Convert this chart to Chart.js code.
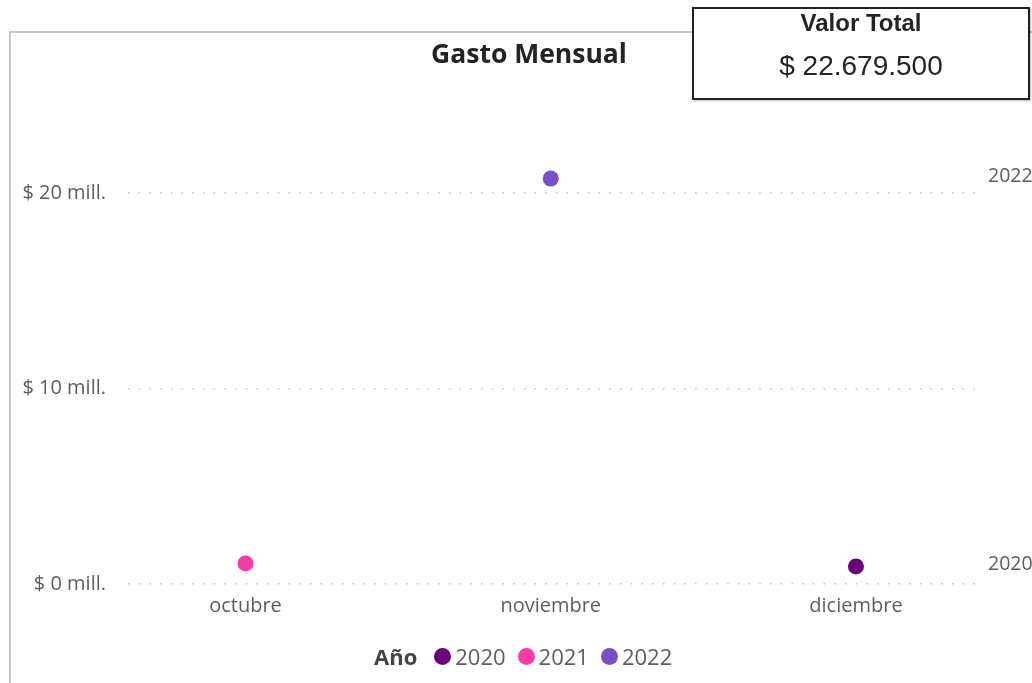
<!DOCTYPE html>
<html lang="es">
<head>
    <meta charset="UTF-8">
    <title>Gasto Mensual</title>
    <script src="https://cdn.jsdelivr.net/npm/chart.js"></script>
    <style>
        body {
            margin: 0;
            width: 1032px;
            height: 683px;
            overflow: hidden;
            background: #fff;
            position: relative;
            font-family: "Open Sans", sans-serif;
        }
        .frame {
            position: absolute;
            left: 9px;
            top: 31px;
            width: 1100px;
            height: 700px;
            border: 2px solid #c8c8c8;
            border-right: none;
            border-bottom: none;
        }
        #chartCanvas {
            position: absolute;
            left: 0;
            top: 0;
        }
        .title {
            position: absolute;
            left: 329px;
            width: 400px;
            top: 35px;
            text-align: center;
            font-weight: bold;
            font-size: 26.5px;
            color: #252423;
        }
        .card {
            position: absolute;
            left: 692px;
            top: 7px;
            width: 334px;
            height: 89px;
            border: 2px solid #222;
            background: #fff;
            font-family: "Liberation Sans", Arial, sans-serif;
            text-align: center;
            color: #252423;
            box-shadow: 1px 1px 2px rgba(0,0,0,0.25);
        }
        .card h4 {
            margin: 0;
            margin-top: 0;
            font-size: 24px;
            font-weight: bold;
        }
        .card p {
            margin: 0;
            margin-top: 13px;
            font-size: 28px;
        }
        .legend {
            position: absolute;
            left: 374px;
            top: 641px;
            display: flex;
            align-items: center;
            font-size: 22px;
            color: #605e5c;
        }
        .legend b {
            color: #444;
            margin-right: 17px;
        }
        .legend span.dot {
            display: inline-block;
            width: 17px;
            height: 17px;
            border-radius: 50%;
            margin-right: 4px;
        }
        .legend span.item {
            display: flex;
            align-items: center;
            margin-right: 12px;
        }
    </style>
</head>
<body>
    <div class="frame"></div>
    <canvas id="chartCanvas" width="1032" height="683"></canvas>
    <div class="title">Gasto Mensual</div>
    <div class="card">
        <h4>Valor Total</h4>
        <p id="valorTotal"></p>
    </div>
    <div class="legend" id="legend"><b>Año</b></div>

    <script>
        // datos
        const months = ['octubre', 'noviembre', 'diciembre'];
        const years = ['2020', '2021', '2022'];
        const colors = ['#6B007B', '#F23CA6', '#7B4FC8'];
        const gasto2020 = [null, null, 900000];
        const gasto2021 = [1050000, null, null];
        const gasto2022 = [null, 20729500, null];
        const yTicks = [0, 10000000, 20000000];

        const series = [gasto2020, gasto2021, gasto2022];

        const formatMiles = n => String(n).replace(/\B(?=(\d{3})+(?!\d))/g, '.');

        let total = 0;
        series.forEach(s => s.forEach(v => { if (v !== null) total += v; }));
        document.getElementById('valorTotal').textContent = '$ ' + formatMiles(total);

        const datasets = years.map((year, i) => ({
            label: year,
            data: series[i].map((v, j) => ({ x: j, y: v })).filter(p => p.y !== null),
            borderColor: colors[i],
            backgroundColor: colors[i],
            pointRadius: 8,
            pointHoverRadius: 8,
            pointBorderWidth: 0,
            borderWidth: 3
        }));

        // etiquetas de serie a la derecha (como Power BI)
        const endLabels = {
            id: 'endLabels',
            afterDatasetsDraw(chart) {
                const ctx = chart.ctx;
                const yScale = chart.scales.y;
                const used = [];
                ctx.save();
                ctx.font = '19.5px "Open Sans"';
                ctx.fillStyle = '#605e5c';
                ctx.textBaseline = 'middle';
                chart.data.datasets.forEach(ds => {
                    const last = ds.data[ds.data.length - 1];
                    if (!last) return;
                    const y = yScale.getPixelForValue(last.y) - 2;
                    if (used.some(u => Math.abs(u - y) < 20)) return;
                    used.push(y);
                    ctx.fillText(ds.label, chart.chartArea.right + 13, y);
                });
                ctx.restore();
            }
        };

        const ctx = document.getElementById('chartCanvas').getContext('2d');
        new Chart(ctx, {
            type: 'line',
            data: { datasets: datasets },
            options: {
                responsive: false,
                animation: false,
                layout: {
                    padding: { top: 95, right: 57, bottom: 59, left: 0 }
                },
                plugins: {
                    legend: { display: false },
                    tooltip: { enabled: false }
                },
                scales: {
                    x: {
                        type: 'linear',
                        min: -0.385,
                        max: 2.39,
                        afterBuildTicks: scale => {
                            scale.ticks = months.map((m, i) => ({ value: i }));
                        },
                        afterFit: scale => { scale.height = 40; },
                        grid: { display: false, drawTicks: false },
                        border: { display: false },
                        ticks: {
                            padding: 10,
                            color: '#605e5c',
                            font: { family: 'Open Sans', size: 20 },
                            callback: v => months[v]
                        }
                    },
                    y: {
                        min: 0,
                        max: 25000000,
                        afterBuildTicks: scale => {
                            scale.ticks = yTicks.map(v => ({ value: v }));
                        },
                        afterFit: scale => { scale.width = 128; },
                        grid: {
                            color: '#c4c4c4',
                            lineWidth: 1.5,
                            drawTicks: false
                        },
                        border: { display: false, dash: [1.5, 9.2] },
                        ticks: {
                            padding: 22,
                            color: '#605e5c',
                            font: { family: 'Open Sans', size: 20 },
                            callback: v => '$ ' + (v / 1000000) + ' mill.'
                        }
                    }
                }
            },
            plugins: [endLabels]
        });

        // leyenda
        const legend = document.getElementById('legend');
        years.forEach((year, i) => {
            const item = document.createElement('span');
            item.className = 'item';
            item.innerHTML = '<span class="dot" style="background:' + colors[i] + '"></span>' + year;
            legend.appendChild(item);
        });
    </script>
</body>
</html>
